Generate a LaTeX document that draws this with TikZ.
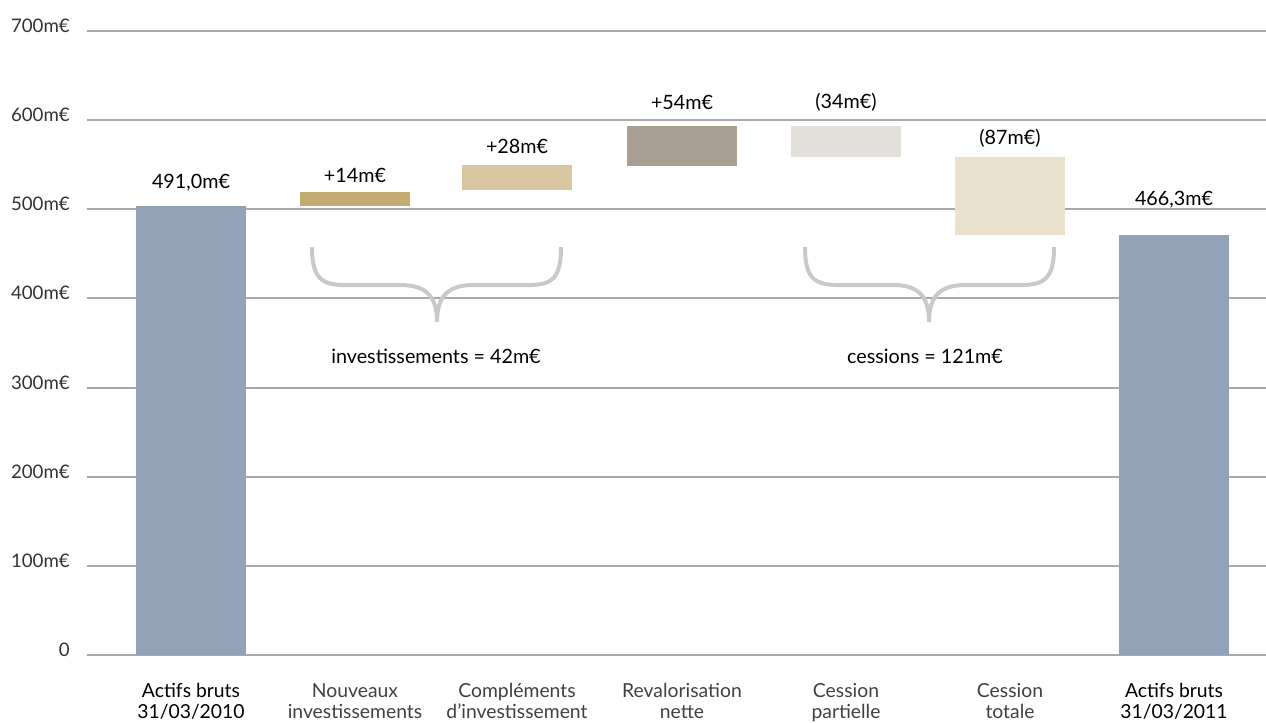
\documentclass[tikz,border=0pt]{standalone}
\usepackage{fontspec}
\setmainfont{Lato}
\definecolor{gridgray}{HTML}{A9A9A9}
\definecolor{bracegray}{HTML}{C9C9C9}
\definecolor{actifs}{HTML}{92A2B8}
\definecolor{nouv}{HTML}{C4AB72}
\definecolor{compl}{HTML}{D7C6A0}
\definecolor{reval}{HTML}{AA9F93}
\definecolor{cessp}{HTML}{E3E0DB}
\definecolor{cesst}{HTML}{EBE2CE}
\begin{document}
\begin{tikzpicture}[x=0.75pt,y=0.75pt,yscale=-1,xscale=1,
  axislbl/.style={anchor=east,inner sep=0pt,text=black!80,font=\fontsize{14}{16}\selectfont},
  vallbl/.style={text=black,font=\fontsize{14.8}{17}\selectfont},
  catlbl/.style={anchor=north,align=center,text=black!75,font=\fontsize{14.5}{16}\selectfont},
  totlbl/.style={anchor=north,align=center,text=black,font=\fontsize{14.5}{16}\selectfont},
  sumlbl/.style={text=black,font=\fontsize{14.8}{17}\selectfont},
  bracelines/.style={color=bracegray,line width=3pt}]
\useasboundingbox (0,0) rectangle (1266,722);

%Grid Lines
\foreach \yy/\lbl in {655/0,566/100m€,477/200m€,388/300m€,298/400m€,209/500m€,120/600m€,31/700m€}{
  \draw [color=gridgray,line width=1.1pt] (87,\yy) -- (1266,\yy) ;
  \draw (70,\yy-5) node (ax\lbl) [axislbl] {\lbl};
}

%Bars
\fill [color=actifs] (136,206) rectangle (246,655) ;
\fill [color=nouv] (300,192) rectangle (410,206) ;
\fill [color=compl] (462,165) rectangle (572,190) ;
\fill [color=reval] (627,126) rectangle (737,166) ;
\fill [color=cessp] (791,126) rectangle (901,157) ;
\fill [color=cesst] (955,157) rectangle (1065,235) ;
\fill [color=actifs] (1119,235) rectangle (1229,655) ;

%Curve Lines (braces)
\draw [bracelines] (312,247) .. controls (312,290) and (330,285) .. (370,285) -- (400,285) .. controls (425,285) and (437,295) .. (437,322) .. controls (437,295) and (449,285) .. (474,285) -- (504,285) .. controls (544,285) and (561,290) .. (561,247) ;
\draw [bracelines] (805,247) .. controls (805,290) and (823,285) .. (863,285) -- (893,285) .. controls (917,285) and (929,295) .. (929,322) .. controls (929,295) and (941,285) .. (966,285) -- (996,285) .. controls (1036,285) and (1054,290) .. (1054,247) ;

% Text Node
\draw (191,183) node (v1) [vallbl] {491,0m€};
\draw (355,175) node (v2) [vallbl] {+14m€};
\draw (517,146) node (v3) [vallbl] {+28m€};
\draw (682,102) node (v4) [vallbl] {+54m€};
\draw (846,102) node (v5) [vallbl] {(34m€)};
\draw (1010,138) node (v6) [vallbl] {(87m€)};
\draw (1174,200) node (v7) [vallbl] {466,3m€};
% Text Node
\draw (436,356) node (inv) [sumlbl] {investissements = 42m€};
\draw (925,356) node (ces) [sumlbl] {cessions = 121m€};
% Text Node
\draw (191,678) node (c1) [totlbl] {\strut Actifs bruts\\\strut 31/03/2010};
\draw (355,678) node (c2) [catlbl] {\strut Nouveaux\\\strut investissements};
\draw (517,678) node (c3) [catlbl] {\strut Compléments\\\strut d’investissement};
\draw (682,678) node (c4) [catlbl] {\strut Revalorisation\\\strut nette};
\draw (846,678) node (c5) [catlbl] {\strut Cession\\\strut partielle};
\draw (1010,678) node (c6) [catlbl] {\strut Cession\\\strut totale};
\draw (1174,678) node (c7) [totlbl] {\strut Actifs bruts\\\strut 31/03/2011};

\end{tikzpicture}
\end{document}
